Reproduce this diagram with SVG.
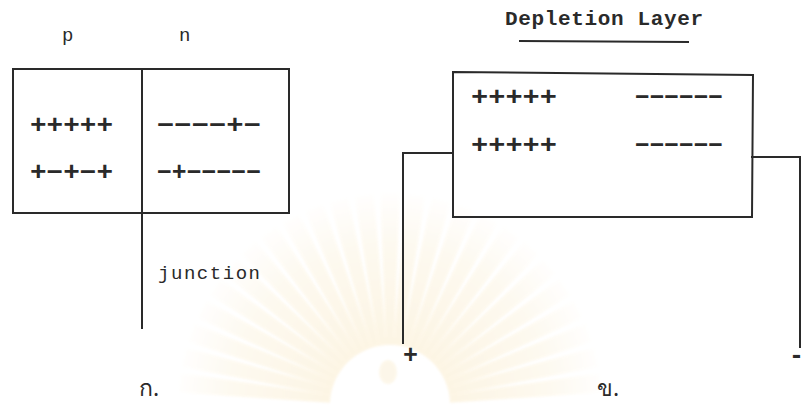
<svg xmlns="http://www.w3.org/2000/svg" width="804" height="406" viewBox="0 0 804 406">
  <style>
    .ln { fill: none; stroke: #2a2a2a; stroke-width: 2; stroke-linecap: square; }
    .tx { font-family: "Liberation Mono", "Courier New", monospace; font-size: 19px; fill: #2a2a2a; }
    .ch { font-family: "Liberation Mono", "Courier New", monospace; font-size: 25px; font-weight: bold; fill: #2a2a2a; }
    .hd { font-family: "Liberation Mono", "Courier New", monospace; font-size: 21px; font-weight: bold; fill: #2a2a2a; }
    .th { font-family: "Noto Sans", "DejaVu Sans", sans-serif; font-size: 23px; fill: #2a2a2a; }
  </style>
  <defs>
    <radialGradient id="rayFade" gradientUnits="userSpaceOnUse" cx="390" cy="405" r="215">
      <stop offset="0.3" stop-color="#fbeccb"/>
      <stop offset="0.75" stop-color="#fdf5e2"/>
      <stop offset="1" stop-color="#ffffff"/>
    </radialGradient>
    <filter id="soft" x="-10%" y="-10%" width="120%" height="120%">
      <feGaussianBlur stdDeviation="1"/>
    </filter>
    <polygon id="ray" points="386,345 394,345 400,192 380,192"/>
  </defs>

  <rect width="804" height="406" fill="#ffffff"/>

  <!-- faint sunburst emblem in the background -->
  <g id="emblem" fill="url(#rayFade)" opacity="0.5" filter="url(#soft)">
    <use href="#ray" transform="rotate(-84 390 405)"/>
    <use href="#ray" transform="rotate(-77 390 405)"/>
    <use href="#ray" transform="rotate(-70 390 405)"/>
    <use href="#ray" transform="rotate(-63 390 405)"/>
    <use href="#ray" transform="rotate(-56 390 405)"/>
    <use href="#ray" transform="rotate(-49 390 405)"/>
    <use href="#ray" transform="rotate(-42 390 405)"/>
    <use href="#ray" transform="rotate(-35 390 405)"/>
    <use href="#ray" transform="rotate(-28 390 405)"/>
    <use href="#ray" transform="rotate(-21 390 405)"/>
    <use href="#ray" transform="rotate(-14 390 405)"/>
    <use href="#ray" transform="rotate(-7 390 405)"/>
    <use href="#ray"/>
    <use href="#ray" transform="rotate(7 390 405)"/>
    <use href="#ray" transform="rotate(14 390 405)"/>
    <use href="#ray" transform="rotate(21 390 405)"/>
    <use href="#ray" transform="rotate(28 390 405)"/>
    <use href="#ray" transform="rotate(35 390 405)"/>
    <use href="#ray" transform="rotate(42 390 405)"/>
    <use href="#ray" transform="rotate(49 390 405)"/>
    <use href="#ray" transform="rotate(56 390 405)"/>
    <use href="#ray" transform="rotate(63 390 405)"/>
    <use href="#ray" transform="rotate(70 390 405)"/>
    <use href="#ray" transform="rotate(77 390 405)"/>
    <use href="#ray" transform="rotate(84 390 405)"/>
    <ellipse cx="388" cy="372" rx="9" ry="12" fill="#fbefd4"/>
  </g>

  <!-- left figure: p-n block with junction -->
  <g id="pn-block">
    <rect class="ln" x="13" y="69" width="276" height="144"/>
    <text class="tx" x="62" y="41">p</text>
    <text class="tx" x="179" y="41">n</text>
    <text class="ch" x="30" y="133" textLength="83" lengthAdjust="spacingAndGlyphs">+++++</text>
    <text class="ch" x="157" y="133" textLength="104" lengthAdjust="spacingAndGlyphs">−−−−+−</text>
    <text class="ch" x="30" y="180" textLength="83" lengthAdjust="spacingAndGlyphs">+−+−+</text>
    <text class="ch" x="157" y="180" textLength="104" lengthAdjust="spacingAndGlyphs">−+−−−−−</text>
  </g>

  <g id="junction">
    <line class="ln" x1="142" y1="69" x2="142" y2="328"/>
    <text class="tx" x="158" y="279" textLength="102" lengthAdjust="spacing">junction</text>
  </g>

  <text class="th" x="139" y="396">ก.</text>

  <!-- right figure: biased block with depletion layer -->
  <g id="depletion-title">
    <text class="hd" x="505" y="25" textLength="198" lengthAdjust="spacing">Depletion Layer</text>
    <line class="ln" x1="520" y1="41" x2="688" y2="42"/>
  </g>

  <g id="biased-block">
    <path class="ln" d="M453,72 L753,75 L752,217 L453,217 Z"/>
    <text class="ch" x="471" y="105" textLength="86" lengthAdjust="spacingAndGlyphs">+++++</text>
    <text class="ch" x="635" y="105" textLength="88" lengthAdjust="spacingAndGlyphs">−−−−−−</text>
    <text class="ch" x="471" y="153" textLength="86" lengthAdjust="spacingAndGlyphs">+++++</text>
    <text class="ch" x="635" y="153" textLength="88" lengthAdjust="spacingAndGlyphs">−−−−−−</text>
  </g>

  <g id="connectors">
    <polyline class="ln" points="453,153 403,153 403,343"/>
    <polyline class="ln" points="752,157 800,157 800,347"/>
  </g>

  <g id="terminals">
    <text class="ch" x="403" y="363" font-size="20">+</text>
    <text class="ch" x="789" y="363" font-size="20">-</text>
  </g>

  <text class="th" x="597" y="396">ข.</text>
</svg>
